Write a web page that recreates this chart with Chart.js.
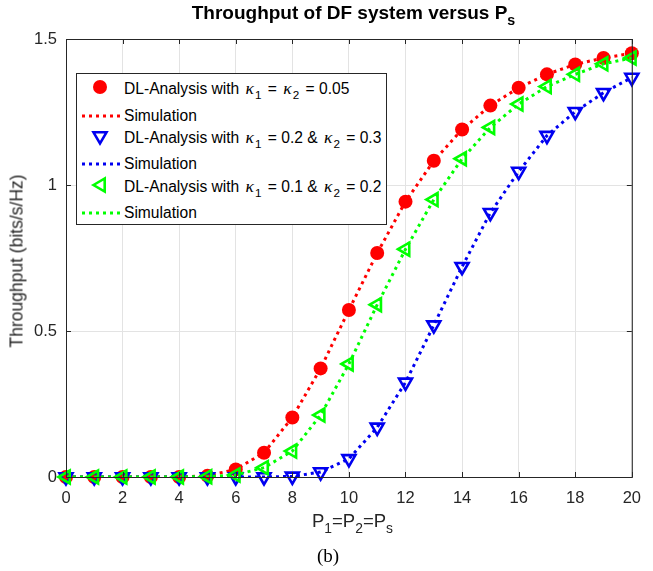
<!DOCTYPE html>
<html>
<head>
<meta charset="utf-8">
<script src="https://cdn.jsdelivr.net/npm/chart.js@4.4.1/dist/chart.umd.min.js"></script>
<style>
  body { margin: 0; background: #fff; font-family: 'Liberation Sans', Arial, sans-serif; }
  #wrap { position: relative; width: 653px; height: 571px; }
  #graphic { position: absolute; left: 0; top: 0; }
  .txt { position: absolute; color: #262626; white-space: nowrap; }
  .sub { font-size: 0.75em; position: relative; top: 0.45em; }
  .k { font-family: 'Liberation Serif', serif; font-style: italic; font-size: 1.12em; }
  #title { left: 0; width: 707px; top: 2px; text-align: center; font-weight: bold; font-size: 19px; color: #000; }
  #xlabel { left: 0; width: 705px; top: 510px; text-align: center; font-size: 18.5px; }
  #ylabel { left: 17px; top: 261px; font-size: 17.5px; transform: translate(-50%, -50%) rotate(-90deg); }
  #caption { left: 0; width: 656px; top: 545px; text-align: center; font-family: 'Liberation Serif', serif; font-size: 19px; color: #000; }
  #legend { position: absolute; left: 76px; top: 73px; width: 309px; height: 150px; border: 1px solid #262626; background: #fff; }
  .row { position: absolute; left: 0; height: 22px; font-size: 15.6px; color: #000; }
  .row svg { position: absolute; left: 4px; top: 0; }
  .row span.lbl { position: absolute; left: 47px; top: 2px; white-space: nowrap; }
  .row span.lbl .sub { margin-left: 1px; margin-right: 2px; }
  .row span.lbl .k { margin-left: 2px; }
</style>
</head>
<body>
<div id="wrap">
  <canvas id="graphic" width="653" height="571"></canvas>
  <div class="txt" id="title">Throughput of DF system versus P<span class="sub">s</span></div>
  <div class="txt" id="ylabel">Throughput (bits/s/Hz)</div>
  <div class="txt" id="xlabel">P<span class="sub">1</span>=P<span class="sub">2</span>=P<span class="sub">s</span></div>
  <div class="txt" id="caption">(b)</div>
  <div id="legend"></div>
</div>
<script>
const powers = [0, 1, 2, 3, 4, 5, 6, 7, 8, 9, 10, 11, 12, 13, 14, 15, 16, 17, 18, 19, 20]
const xTicks = [0, 2, 4, 6, 8, 10, 12, 14, 16, 18, 20]
const yTicks = [0, 0.5, 1, 1.5]
const yTickLabels = ['0', '0.5', '1', '1.5']

const analysisA = [0, 0, 0, 0, 0, 0.004, 0.026, 0.083, 0.204, 0.372, 0.572, 0.767, 0.943, 1.083, 1.19, 1.272, 1.333, 1.379, 1.413, 1.435, 1.451]
const simulationA = [0, 0, 0, 0, 0, 0.004, 0.026, 0.083, 0.204, 0.372, 0.572, 0.767, 0.943, 1.083, 1.19, 1.272, 1.333, 1.379, 1.413, 1.435, 1.451]
const analysisB = [0, 0, 0, 0, 0, 0, 0, 0, 0.002, 0.017, 0.062, 0.17, 0.324, 0.52, 0.72, 0.905, 1.046, 1.169, 1.251, 1.316, 1.368]
const simulationB = [0, 0, 0, 0, 0, 0, 0, 0, 0.002, 0.017, 0.062, 0.17, 0.324, 0.52, 0.72, 0.905, 1.046, 1.169, 1.251, 1.316, 1.368]
const analysisC = [0, 0, 0, 0, 0, 0.001, 0.007, 0.032, 0.089, 0.212, 0.387, 0.59, 0.78, 0.95, 1.09, 1.197, 1.277, 1.337, 1.379, 1.415, 1.435]
const simulationC = [0, 0, 0, 0, 0, 0.001, 0.007, 0.032, 0.089, 0.212, 0.387, 0.59, 0.78, 0.95, 1.09, 1.197, 1.277, 1.337, 1.379, 1.415, 1.435]

const RED = '#ff0000'
const BLUE = '#0000f0'
const GREEN = '#00ff00'
const AXIS = '#262626'

const toPoints = (values) => values.map((v, i) => ({ x: powers[i], y: v }))

const markerSet = (values, color, style, rotation, radius, order) => ({
  data: toPoints(values),
  showLine: false,
  clip: false,
  pointStyle: style,
  pointRotation: rotation,
  pointRadius: radius,
  pointHoverRadius: radius,
  pointBorderWidth: style === 'circle' ? 0 : 2.6,
  pointBorderColor: color,
  pointBackgroundColor: style === 'circle' ? color : 'rgba(255,255,255,0)',
  order: order
})

const lineSet = (values, color, order) => ({
  data: toPoints(values),
  borderColor: color,
  borderWidth: 3,
  borderDash: [3, 4],
  pointRadius: 0,
  tension: 0,
  fill: false,
  order: order
})

// matlab-like box with inward ticks
const boxPlugin = {
  id: 'box',
  afterDraw(chart) {
    const { ctx, chartArea: a, scales } = chart
    ctx.save()
    ctx.strokeStyle = AXIS
    ctx.lineWidth = 1
    ctx.strokeRect(a.left + 0.5, a.top + 0.5, a.right - a.left, a.bottom - a.top)
    ctx.beginPath()
    xTicks.forEach(t => {
      const px = Math.round(scales.x.getPixelForValue(t)) + 0.5
      ctx.moveTo(px, a.bottom); ctx.lineTo(px, a.bottom - 5)
      ctx.moveTo(px, a.top); ctx.lineTo(px, a.top + 5)
    })
    yTicks.forEach(t => {
      const py = Math.round(scales.y.getPixelForValue(t)) + 0.5
      ctx.moveTo(a.left, py); ctx.lineTo(a.left + 5, py)
      ctx.moveTo(a.right, py); ctx.lineTo(a.right - 5, py)
    })
    ctx.stroke()
    ctx.restore()
  }
}

const renderChart = () => {
  const ctx = document.querySelector('#graphic').getContext('2d')
  new Chart(ctx, {
    type: 'line',
    data: {
      datasets: [
        markerSet(analysisA, RED, 'circle', 0, 7, 6),
        lineSet(simulationA, RED, 5),
        markerSet(analysisB, BLUE, 'triangle', 180, 7.5, 4),
        lineSet(simulationB, BLUE, 3),
        markerSet(analysisC, GREEN, 'triangle', -90, 7.5, 2),
        lineSet(simulationC, GREEN, 1)
      ]
    },
    options: {
      responsive: false,
      animation: false,
      layout: { padding: { left: 0, top: 39, right: 12, bottom: 0 } },
      plugins: { legend: { display: false }, tooltip: { enabled: false } },
      scales: {
        x: {
          type: 'linear', min: 0, max: 20,
          afterBuildTicks: (s) => { s.ticks = xTicks.map(v => ({ value: v })) },
          afterFit: (s) => { s.height = 94 },
          grid: { color: '#e3e3e3', drawTicks: false },
          border: { color: AXIS },
          ticks: { padding: 12, color: AXIS, font: { family: 'Liberation Sans', size: 16.5 } }
        },
        y: {
          type: 'linear', min: 0, max: 1.5,
          afterBuildTicks: (s) => { s.ticks = yTicks.map(v => ({ value: v })) },
          afterFit: (s) => { s.width = 66 },
          grid: { color: '#e3e3e3', drawTicks: false },
          border: { color: AXIS },
          ticks: {
            padding: 9, color: AXIS, font: { family: 'Liberation Sans', size: 16.5 },
            callback: (value) => yTickLabels[yTicks.indexOf(value)]
          }
        }
      }
    },
    plugins: [boxPlugin]
  })
}

const kap = (n) => `<span class="k">κ</span><span class="sub">${n}</span>`
const legendRows = [
  { top: 2, label: `DL-Analysis with ${kap(1)} = ${kap(2)} = 0.05`, marker: 'circle', color: RED },
  { top: 31, label: 'Simulation', marker: 'line', color: RED },
  { top: 51, label: `DL-Analysis with ${kap(1)} = 0.2 &amp; ${kap(2)} = 0.3`, marker: 'down', color: BLUE },
  { top: 79, label: 'Simulation', marker: 'line', color: BLUE },
  { top: 100, label: `DL-Analysis with ${kap(1)} = 0.1 &amp; ${kap(2)} = 0.2`, marker: 'left', color: GREEN },
  { top: 128, label: 'Simulation', marker: 'line', color: GREEN }
]

const markerSvg = (kind, color) => {
  let shape = ''
  if (kind === 'circle') shape = `<circle cx="19" cy="11" r="7" fill="${color}"/>`
  if (kind === 'line') shape = `<line x1="1" y1="11" x2="41" y2="11" stroke="${color}" stroke-width="3" stroke-dasharray="3 4"/>`
  if (kind === 'down') shape = `<polygon points="12.5,7.3 25.5,7.3 19,18.5" fill="none" stroke="${color}" stroke-width="2.6"/>`
  if (kind === 'left') shape = `<polygon points="12.5,11 23.7,4.5 23.7,17.5" fill="none" stroke="${color}" stroke-width="2.6"/>`
  return `<svg width="42" height="22">${shape}</svg>`
}

const renderLegend = () => {
  const legend = document.querySelector('#legend')
  legendRows.forEach(r => {
    const row = document.createElement('div')
    row.className = 'row'
    row.style.top = r.top + 'px'
    row.innerHTML = markerSvg(r.marker, r.color) + `<span class="lbl">${r.label}</span>`
    legend.appendChild(row)
  })
}

renderChart()
renderLegend()
</script>
</body>
</html>
